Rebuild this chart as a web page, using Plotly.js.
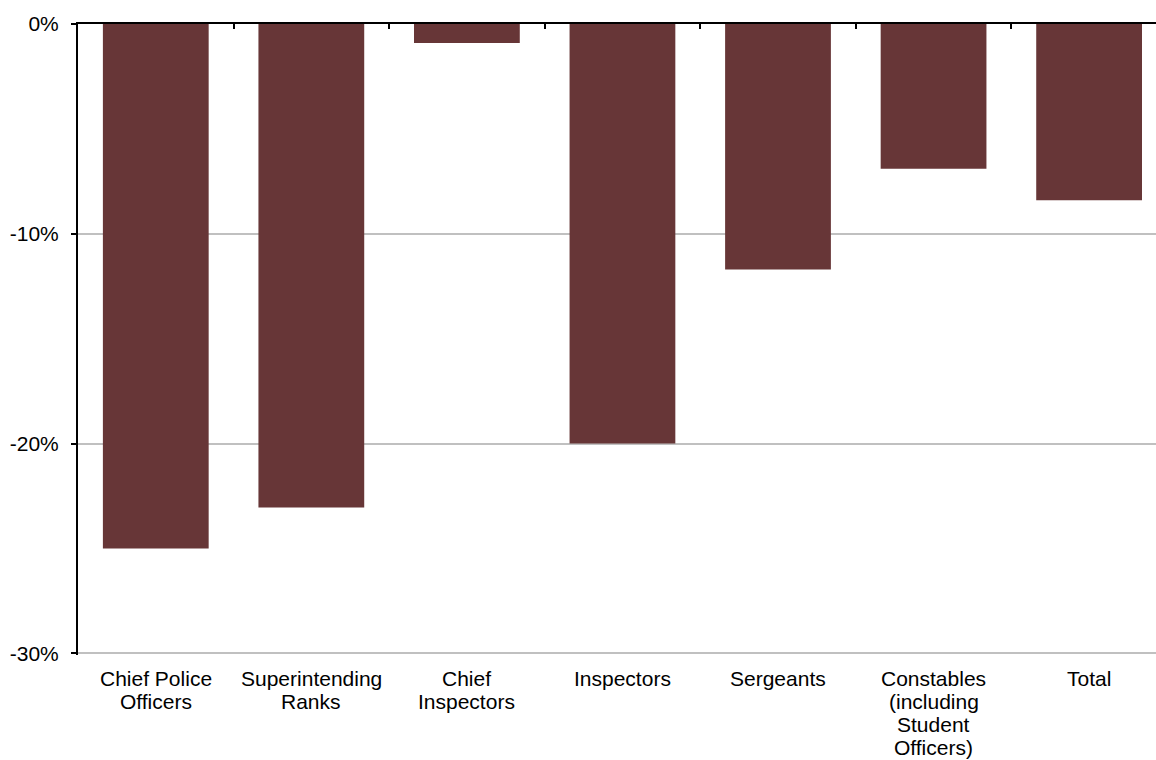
<!DOCTYPE html>
<html>
<head>
<meta charset="utf-8">
<script src="https://cdn.plot.ly/plotly-3.0.1.min.js"></script>
<style>html,body{margin:0;padding:0;background:#fff;}#chart{width:1156px;height:760px;}</style>
</head>
<body>
<div id="chart"></div>
<script>
const categories = ["Chief Police Officers", "Superintending Ranks", "Chief Inspectors", "Inspectors", "Sergeants", "Constables (including Student Officers)", "Total"];
const tickLabels = ["Chief Police<br>Officers", "Superintending<br>Ranks", "Chief<br>Inspectors", "Inspectors", "Sergeants", "Constables<br>(including<br>Student<br>Officers)", "Total"];
const changePct = [-25.0, -23.05, -0.9, -20.0, -11.7, -6.9, -8.4];
const yTicks = [0, -10, -20, -30];
const boundaryTicks = [0.5, 1.5, 2.5, 3.5, 4.5, 5.5];

const font = {family: "Liberation Sans, Arial, sans-serif", size: 21, color: "#000"};
const xr = [-0.5, 6.43];

const trace = {
  type: "bar",
  x: categories,
  y: changePct,
  marker: {color: "#673637"},
  hoverinfo: "x+y"
};
const dummy = {
  type: "scatter", x: [0], y: [0], xaxis: "x2", yaxis: "y",
  mode: "markers", marker: {opacity: 0}, hoverinfo: "skip", showlegend: false
};

// category labels, one annotation per text line (tight Excel-like line spacing)
const LINE_PITCH = 23;
const annotations = [];
categories.forEach((cat, i) => {
  tickLabels[i].split("<br>").forEach((line, j) => {
    annotations.push({
      x: cat, xref: "x", y: 0, yref: "paper",
      text: line, showarrow: false,
      xanchor: "center", yanchor: "middle",
      yshift: -(23 + LINE_PITCH * j),
      font: font
    });
  });
});

const layout = {
  width: 1156, height: 760,
  margin: {l: 78, r: 0, t: 24, b: 105},
  paper_bgcolor: "#fff", plot_bgcolor: "#fff",
  font: font,
  showlegend: false,
  bargap: 0.32,
  annotations: annotations,
  xaxis: {
    type: "category",
    range: xr,
    showticklabels: false,
    ticks: "",
    showline: false, showgrid: false, zeroline: false,
    fixedrange: true
  },
  xaxis2: {
    type: "linear",
    overlaying: "x",
    anchor: "y",
    side: "top",
    range: xr,
    showline: true, linecolor: "#000", linewidth: 2,
    ticks: "inside", ticklen: 5, tickwidth: 2, tickcolor: "#000",
    tickmode: "array", tickvals: boundaryTicks,
    showticklabels: false, showgrid: false, zeroline: false
  },
  yaxis: {
    range: [-30.08, 0],
    tickmode: "array",
    tickvals: yTicks,
    ticktext: yTicks.map(v => v + "%"),
    showgrid: true, gridcolor: "#c0c0c0", gridwidth: 2,
    zeroline: false,
    showline: true, linecolor: "#000", linewidth: 2,
    ticks: "outside", ticklen: 5, tickwidth: 2, tickcolor: "#000",
    ticklabelstandoff: 8,
    tickfont: font
  }
};

Plotly.newPlot("chart", [trace, dummy], layout, {displayModeBar: false, staticPlot: true});
</script>
</body>
</html>
